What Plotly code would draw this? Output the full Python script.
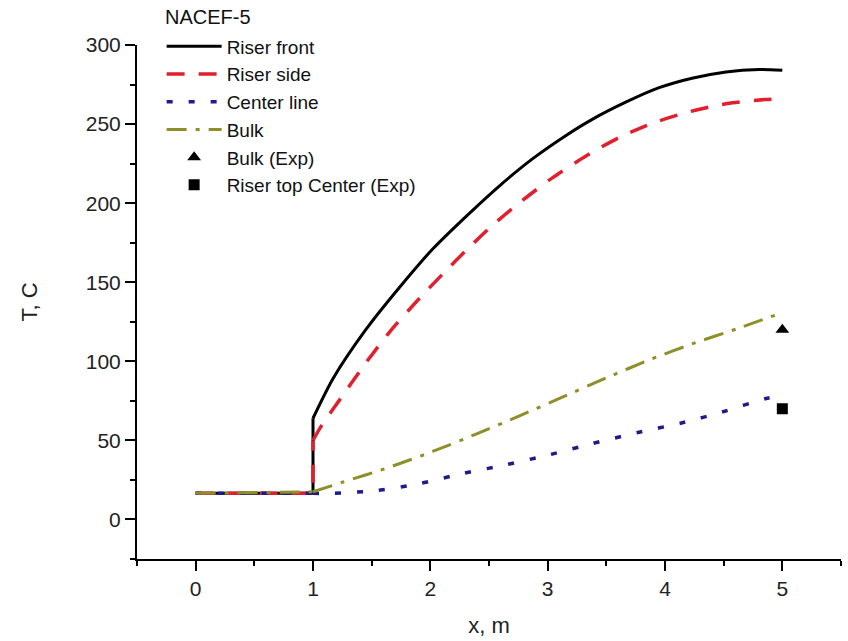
import plotly.graph_objects as go

# ---- data ----
# step part (0 <= x <= 1, including the vertical jump at x = 1)
front_step_x = [0, 1, 1]
front_step_T = [16.5, 16.5, 64]
side_step_x = [0, 1, 1]
side_step_T = [16.5, 16.5, 50]
center_step_x = [0, 1]
center_step_T = [16.5, 16.5]
bulk_step_x = [0, 1]
bulk_step_T = [16.5, 17.5]

# smooth part (x >= 1)
front_x = [1, 1.17, 1.45, 1.74, 2.02, 2.31, 2.59, 2.87, 3.16, 3.38, 3.67, 3.95, 4.23, 4.52, 4.80, 5.0]
front_T = [64, 89, 120, 147, 171, 192, 211, 228, 243, 253, 264, 273, 279, 283, 284.5, 284]

side_x = [1, 1.07, 1.25, 1.45, 1.68, 1.91, 2.11, 2.31, 2.53, 2.79, 3.04, 3.33, 3.61, 3.91, 4.22, 4.53, 4.85, 4.97]
side_T = [50, 59, 78, 99, 121, 140, 155.5, 170.5, 186, 202, 216, 230, 241.5, 251, 258, 263, 265.5, 266]

center_x = [1, 1.16, 1.54, 1.91, 2.27, 2.65, 3.02, 3.38, 3.77, 4.14, 4.49, 4.86, 4.97]
center_T = [16.5, 16.5, 18.3, 22.7, 29, 34.7, 41, 48, 55, 61, 68, 76.5, 78]

bulk_x = [1, 1.25, 1.65, 2.02, 2.39, 2.76, 3.13, 3.50, 3.87, 4.23, 4.63, 4.97]
bulk_T = [17.5, 23.5, 33, 43, 54, 65.5, 77.5, 89.5, 101, 111, 121, 130]

bulk_exp_x = [5]
bulk_exp_T = [120]
riser_exp_x = [5]
riser_exp_T = [70]

x_ticks = [0, 1, 2, 3, 4, 5]
y_ticks = [0, 50, 100, 150, 200, 250, 300]

FONT = "Arial, 'Liberation Sans', sans-serif"

styles = {
    "front": dict(color="black", width=3),
    "side": dict(color="#e0202e", width=3.5, dash="18px,14px"),
    "center": dict(color="#1c1c8c", width=3.5, dash="6px,16px"),
    "bulk": dict(color="#8f8f2a", width=3, dash="20px,9px,4px,9px"),
}

fig = go.Figure()
series = [
    ("front", "Riser front", front_step_x, front_step_T, front_x, front_T),
    ("side", "Riser side", side_step_x, side_step_T, side_x, side_T),
    ("center", "Center line", center_step_x, center_step_T, center_x, center_T),
    ("bulk", "Bulk", bulk_step_x, bulk_step_T, bulk_x, bulk_T),
]
for key, name, sx, sy, cx, cy in series:
    fig.add_trace(go.Scatter(x=sx, y=sy, mode="lines", legendgroup=key, showlegend=False,
                             line=dict(**styles[key]), hoverinfo="skip"))
    fig.add_trace(go.Scatter(x=cx, y=cy, mode="lines", name=name, legendgroup=key,
                             line=dict(shape="spline", smoothing=0.7, **styles[key])))

fig.add_trace(go.Scatter(x=bulk_exp_x, y=bulk_exp_T, mode="markers", name="Bulk (Exp)", legendgroup="e",
                         marker=dict(symbol="triangle-up", size=12, color="black")))
fig.add_trace(go.Scatter(x=riser_exp_x, y=riser_exp_T, mode="markers", name="Riser top Center (Exp)", legendgroup="f",
                         marker=dict(symbol="square", size=11, color="black")))

axis_common = dict(
    showline=True, linecolor="black", linewidth=2,
    ticks="outside", ticklen=10, tickwidth=2, tickcolor="black",
    showgrid=False, zeroline=False,
    tickfont=dict(family=FONT, size=21, color="#222"),
    minor=dict(ticks="outside", ticklen=5, tickwidth=2, tickcolor="black", showgrid=False),
)

fig.update_xaxes(range=[-0.5, 5.5], tickvals=x_ticks, minor_dtick=0.5,
                 title=dict(text="x, m", font=dict(family=FONT, size=22, color="#222"), standoff=18),
                 **axis_common)
fig.update_yaxes(range=[-25, 300], tickvals=y_ticks, minor_dtick=25,
                 title=dict(text="T, C", font=dict(family=FONT, size=22, color="#222"), standoff=42),
                 **axis_common)

fig.add_annotation(text="NACEF-5", xref="paper", yref="paper", x=0.037, y=1.0543,
                   xanchor="left", yanchor="middle", showarrow=False,
                   font=dict(family=FONT, size=20, color="#111"))

fig.update_layout(
    width=848, height=641,
    margin=dict(l=137, r=7, t=45, b=80),
    paper_bgcolor="white", plot_bgcolor="white",
    showlegend=True,
    legend=dict(
        x=0.035, y=1.034, xanchor="left", yanchor="top",
        bgcolor="rgba(0,0,0,0)",
        font=dict(family=FONT, size=19, color="#111"),
        tracegroupgap=0, itemwidth=55,
    ),
)

fig.write_html("out.html")
